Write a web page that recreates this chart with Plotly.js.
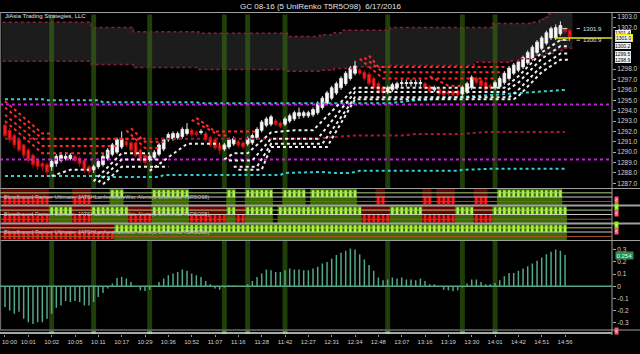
<!DOCTYPE html>
<html><head><meta charset="utf-8">
<script src="https://cdn.plot.ly/plotly-3.0.1.min.js"></script>
<style>html,body{margin:0;padding:0;background:#000;}#chart{width:640px;height:354px;}</style>
</head><body><div id="chart"></div>
<script>
// ---------------- DATA ----------------
const timeLabels = ['10:00','10:01','10:02','10:05','10:11','10:17','10:29','10:36','10:52','11:07','11:16','11:28','11:42','12:27','12:31','12:34','12:48','13:07','13:16','13:19','13:30','14:01','14:42','14:51','14:56'];
const barsPerLabel = 5;

const opens = [1292.6,1292.1,1291.6,1291.2,1290.7,1290.2,1289.7,1289.2,1288.9,1288.8,
1288.6,1288.9,1289.2,1289.4,1289.4,1289.6,1289.4,1289.2,1288.6,1288.3,
1288.6,1288.8,1289.4,1289.8,1290.0,1290.5,1291.0,1290.9,1290.9,1290.2,
1289.7,1289.3,1289.5,1289.8,1290.3,1291.2,1291.3,1291.4,1291.5,1291.8,
1292.1,1291.9,1291.9,1291.8,1291.4,1291.2,1290.7,1290.3,1290.5,1290.8,
1291.0,1290.9,1290.8,1290.9,1291.4,1292.1,1292.6,1292.7,1293.0,1292.8,
1292.7,1293.0,1293.2,1293.5,1293.5,1293.5,1293.6,1293.8,1294.3,1294.7,
1295.2,1295.7,1296.2,1296.6,1297.1,1297.6,1297.9,1297.7,1297.5,1297.1,
1296.6,1296.2,1295.8,1296.0,1296.2,1296.6,1296.6,1296.6,1296.6,1296.6,
1296.6,1296.3,1296.0,1296.1,1295.9,1295.8,1295.8,1295.9,1295.6,1295.8,
1296.2,1297.1,1296.9,1296.7,1296.4,1296.2,1296.3,1296.7,1297.1,1297.6,
1297.9,1298.2,1298.6,1299.0,1299.6,1300.0,1300.5,1301.0,1301.0,1301.4,
1301.9,1301.7];
const closes = [1291.6,1291.2,1290.7,1290.2,1289.7,1289.2,1288.8,1288.6,1288.6,1288.1,
1289.1,1289.6,1289.7,1289.6,1289.7,1289.2,1288.9,1288.3,1288.1,1288.6,
1289.1,1289.6,1290.2,1290.7,1291.2,1291.3,1290.7,1290.2,1289.7,1289.2,
1289.0,1289.6,1290.0,1290.7,1291.2,1291.7,1291.8,1291.8,1292.2,1292.2,
1291.7,1291.7,1292.0,1291.2,1290.7,1290.4,1290.2,1290.7,1291.2,1291.3,
1290.7,1290.5,1291.3,1291.6,1292.2,1292.9,1293.2,1293.4,1292.7,1292.5,
1293.2,1293.5,1293.8,1293.8,1293.8,1293.8,1294.1,1294.7,1295.2,1295.7,
1296.2,1296.6,1297.1,1297.6,1298.1,1298.3,1297.6,1297.1,1296.6,1296.2,
1295.8,1295.7,1296.2,1296.5,1296.6,1296.7,1296.7,1296.7,1296.7,1296.7,
1296.2,1295.9,1296.2,1295.6,1295.5,1295.6,1295.5,1295.5,1296.2,1296.6,
1297.2,1296.7,1296.4,1296.0,1296.2,1296.7,1297.1,1297.6,1298.1,1298.4,
1298.7,1299.1,1299.6,1300.1,1300.6,1301.0,1301.5,1301.9,1302.0,1302.2,
1301.6,1301.1];
const highs = [1292.8,1292.3,1291.8,1291.3,1290.8,1290.4,1289.9,1289.4,1289.1,1289.0,
1289.3,1289.8,1290.0,1290.0,1289.9,1289.8,1289.6,1289.3,1288.8,1288.8,
1289.3,1289.8,1290.4,1290.9,1291.4,1292.0,1291.3,1291.1,1291.0,1290.4,
1289.9,1289.8,1290.2,1290.9,1291.4,1291.9,1292.0,1292.0,1292.4,1292.8,
1292.3,1292.1,1292.2,1292.0,1291.6,1291.4,1290.9,1290.9,1291.4,1291.5,
1291.2,1291.1,1291.5,1291.8,1292.4,1293.1,1293.4,1293.6,1293.2,1293.0,
1293.4,1293.7,1294.0,1294.3,1294.0,1294.0,1294.3,1294.9,1295.4,1295.9,
1296.4,1296.8,1297.3,1297.8,1298.3,1298.8,1298.1,1297.9,1297.7,1297.3,
1296.8,1296.4,1296.4,1296.7,1296.8,1297.0,1297.0,1297.0,1297.0,1297.0,
1296.8,1296.5,1296.4,1296.3,1296.1,1296.0,1296.0,1296.1,1296.4,1296.8,
1297.4,1297.3,1297.1,1296.9,1296.6,1296.9,1297.3,1297.8,1298.3,1298.6,
1298.9,1299.3,1299.8,1300.3,1300.8,1301.2,1301.7,1302.1,1302.3,1302.6,
1302.1,1301.9];
const lows = [1291.4,1290.9,1290.4,1290.0,1289.4,1289.0,1288.5,1288.3,1288.2,1287.6,
1288.2,1288.6,1289.0,1289.2,1289.2,1289.0,1288.6,1288.0,1287.8,1288.0,
1288.4,1288.6,1289.2,1289.6,1289.8,1290.3,1290.5,1290.0,1289.5,1289.0,
1288.6,1289.1,1289.3,1289.6,1290.1,1291.0,1291.1,1291.2,1291.3,1291.6,
1291.5,1291.5,1291.7,1291.0,1290.5,1290.2,1289.8,1290.1,1290.3,1290.6,
1290.5,1290.3,1290.6,1290.7,1291.2,1291.9,1292.4,1292.5,1292.5,1292.3,
1292.5,1292.8,1293.0,1293.2,1293.3,1293.3,1293.4,1293.6,1294.1,1294.5,
1295.0,1295.5,1296.0,1296.4,1296.9,1297.4,1297.4,1296.9,1296.4,1296.0,
1295.6,1295.3,1295.6,1295.8,1296.0,1296.3,1296.3,1296.3,1296.3,1296.3,
1296.0,1295.7,1295.8,1295.4,1295.3,1295.4,1295.3,1295.3,1295.4,1295.6,
1296.0,1296.5,1296.2,1295.8,1296.0,1296.0,1296.1,1296.5,1296.9,1297.4,
1297.7,1298.0,1298.4,1298.8,1299.4,1299.8,1300.3,1300.8,1300.8,1301.2,
1301.4,1300.9];

const oscValues = [-0.171,-0.198,-0.226,-0.21,-0.267,-0.295,-0.309,-0.295,-0.295,-0.267,
-0.226,-0.176,-0.157,-0.121,-0.13,-0.121,-0.13,-0.157,-0.157,-0.13,
-0.088,-0.055,-0.019,0.022,0.069,0.077,0.063,0.036,0,-0.033,
-0.039,-0.028,0.008,0.036,0.063,0.091,0.105,0.118,0.138,0.127,
0.105,0.091,0.077,0.044,0.017,-0.019,-0.028,-0.011,0.006,0.006,
-0.006,0,0.017,0.044,0.077,0.105,0.138,0.132,0.118,0.118,
0.132,0.146,0.138,0.138,0.132,0.132,0.146,0.16,0.187,0.2,
0.229,0.256,0.275,0.292,0.311,0.303,0.264,0.22,0.174,0.127,
0.072,0.05,0.055,0.072,0.063,0.072,0.055,0.055,0.05,0.063,
0.044,0.017,0.017,0,-0.028,-0.033,-0.041,-0.033,-0.011,0.022,
0.055,0.055,0.036,0.017,0.017,0.028,0.05,0.083,0.11,0.11,
0.127,0.146,0.165,0.187,0.209,0.237,0.264,0.284,0.303,0.292,
0.256,null];
const oscLast = 0.254;

const signalBars = [10,19,31,47,52,60,82,98,105];

// cloud steps [bar, price]
const cloudTopSteps = [[0,1302.5],[19,1302.0],[28,1301.6],[42,1301.45],[61,1301.15],[68,1301.3],[71,1301.5],[73,1301.75],[83,1302.0],[105,1302.4],[113,1302.5],[115,1302.8],[116,1303.0],[117,1303.3],[118,1303.6]];
const cloudBotSteps = [[0,1298.75],[19,1298.45],[28,1298.15],[42,1297.95],[61,1297.8],[68,1297.9],[71,1298.05],[76,1298.2],[83,1298.35],[101,1298.65],[109,1298.8],[111,1299.0],[114,1299.3],[116,1299.5],[118,1299.8],[120,1300.0]];

const cyanUpper = [[0,1295.1],[8,1295.1],[9,1295.0],[20,1295.0],[21,1294.8],[41,1294.8],[42,1294.7],[82,1294.7],[88,1295.0],[97,1295.3],[108,1295.6],[120,1296.0]];
const cyanLower = [[0,1287.7],[20,1287.7],[21,1287.6],[33,1287.6],[34,1287.8],[59,1287.8],[60,1288.0],[68,1288.1],[70,1288.0],[74,1288.0],[76,1288.2],[97,1288.2],[98,1288.3],[104,1288.4],[120,1288.4]];
const crimsonLine = [[0,1291.3],[67,1291.3],[70,1291.45],[75,1291.6],[85,1291.6],[88,1291.75],[98,1291.75],[100,1291.85],[104,1291.95],[120,1291.95]];
const magentaLevels = [1294.6, 1289.3];

const redTrails = [
 [[0,1293.0],[8,1289.9],[22,1289.9]],
 [[0,1293.6],[8,1290.6],[24,1290.6]],
 [[0,1294.3],[8,1291.3],[30,1291.3]],
 [[0,1294.9],[8,1291.8],[10,1291.8]],
 [[26,1292.1],[30,1290.4],[33,1290.4]],
 [[27,1292.3],[30,1291.0],[34,1291.0]],
 [[40,1293.1],[46,1291.6],[48,1291.6]],
 [[41,1293.3],[45,1292.0],[54,1292.0]],
 [[76,1299.0],[81,1297.1],[105,1297.1]],
 [[77,1299.1],[81,1297.7],[106,1297.7]],
 [[78,1299.3],[80,1298.2],[107,1298.2]],
 [[91,1297.3],[95,1296.4],[98,1296.4]]
];
const whiteTrails = [
 [[10,1287.7],[14,1288.3],[18,1288.3]],
 [[19,1287.2],[25,1289.9],[31,1289.9]],
 [[20,1287.1],[25,1289.3],[33,1289.3]],
 [[21,1286.9],[25,1288.6],[35,1288.6]],
 [[31,1288.2],[39,1290.8],[46,1290.8]],
 [[47,1289.3],[49,1289.9],[52,1289.9],[57,1291.9],[62,1292.1],[66,1292.1],[75,1296.2],[107,1296.2],[110,1297.3],[115,1299.6],[119,1300.8],[121,1300.8]],
 [[48,1289.2],[53,1289.2],[57,1291.3],[67,1291.3],[75,1295.8],[107,1295.8],[110,1296.7],[115,1299.0],[119,1300.2],[121,1300.2]],
 [[49,1288.6],[54,1288.6],[57,1290.8],[68,1290.8],[75,1295.3],[108,1295.3],[110,1296.0],[115,1298.3],[119,1299.5],[121,1299.5]],
 [[50,1288.3],[55,1288.3],[57,1290.5],[69,1290.5],[75,1295.1],[109,1295.1],[110,1295.4],[115,1297.7],[119,1298.9],[121,1298.9]]
];

// indicator stripes as runs of state: g = up, r = down, n = neutral
const stripe1Runs = [['r',10],['n',5],['r',4],['n',4],['g',3],['n',6],['g',8],['n',8],['g',2],['n',2],['g',6],['n',2],['g',5],['n',1],['g',10],['n',4],['r',2],['n',8],['r',2],['n',1],['r',4],['n',4],['r',3],['n',2],['g',14],['n',2]];
const stripe2Runs = [['r',10],['g',5],['r',4],['g',8],['r',5],['g',8],['r',8],['g',2],['r',2],['g',6],['n',1],['g',18],['r',6],['g',7],['r',7],['g',4],['r',4],['g',16],['n',1]];
const stripe3Runs = [['r',24],['g',97],['n',1]];
const stripeLabel = 'Bloodhound Partner Ultimate: JATSHLanfeeshareWst: Alerts(5 UniRenko T5R5O98)';

const boxLevels = [1301.4, 1301.0, 1300.2, 1299.5, 1298.9];
const highlightLevel = 1301.0;
const lastHigh = 1301.9, lastLow = 1300.9;
const priceTicks = [1287,1288,1289,1290,1291,1292,1293,1294,1295,1296,1297,1298,1302,1303];

// ---------------- BUILD ----------------
const n = opens.length;
const bars = opens.map((_, i) => i);
const XR = [-1.07, 130.06];
const YR = [1286.55, 1303.45];
const OR = [-0.355, 0.372];
const RIGHT = 612/640;
const py = px => 1 - px/354;   // pixel row -> paper
const FONT = 'Arial, "Liberation Sans", sans-serif';

function expandSteps(steps){
  const out=[]; let k=0;
  for(let i=0;i<n;i++){ while(k+1<steps.length && steps[k+1][0]<=i) k++; out.push(steps[k][1]); }
  return out;
}
function expandRuns(runs){ const out=[]; runs.forEach(([s,c])=>{ for(let j=0;j<c;j++) out.push(s); }); return out; }

const cTop = expandSteps(cloudTopSteps), cBot = expandSteps(cloudBotSteps);
const traces = [];

// cloud as bars (drawn under candles)
traces.push({type:'bar', x:bars, base:cBot, y:cTop.map((t,i)=>t-cBot[i]), width:1.25,
  marker:{color:'#1c1c1c', line:{width:0}}, xaxis:'x', yaxis:'y', hoverinfo:'skip'});
// signal bands
const bandColor = 'rgba(58,120,14,0.52)';
traces.push({type:'bar', x:signalBars, base:YR[0], y:signalBars.map(()=>YR[1]-YR[0]-0.2), width:1.05,
  marker:{color:bandColor, line:{width:0}}, xaxis:'x', yaxis:'y'});
traces.push({type:'bar', x:signalBars, base:OR[0], y:signalBars.map(()=>OR[1]-OR[0]), width:1.05,
  marker:{color:bandColor, line:{width:0}}, xaxis:'x', yaxis:'y2'});
traces.push({type:'bar', x:signalBars, base:0, y:signalBars.map(()=>1), width:1.05,
  marker:{color:'#3f8a10', line:{width:0}}, xaxis:'x', yaxis:'y6'});
// oscillator
traces.push({type:'bar', x:bars, y:oscValues, width:0.32, marker:{color:'#52a98a', line:{width:0}}, xaxis:'x', yaxis:'y2'});

// stripes
const bgCol = {g:'#3b6a02', r:'#6a0000', n:'#000000'};
[[stripe1Runs,'y3'],[stripe2Runs,'y4'],[stripe3Runs,'y5']].forEach(([runs,ax])=>{
  const st = expandRuns(runs);
  traces.push({type:'bar', x:bars, base:0, y:st.map(()=>1), width:1.2,
    marker:{color:st.map(s=>bgCol[s]), line:{width:0}}, xaxis:'x', yaxis:ax});
  const gx = bars.filter(i=>st[i]==='g'), rx = bars.filter(i=>st[i]==='r');
  traces.push({type:'bar', x:gx, base:0.5, y:gx.map(()=>0.42), width:0.55,
    marker:{color:'#a6ff2c', line:{width:0}}, xaxis:'x', yaxis:ax});
  traces.push({type:'bar', x:rx, base:0.06, y:rx.map(()=>0.42), width:0.55,
    marker:{color:'#ff1414', line:{width:0}}, xaxis:'x', yaxis:ax});
});

// candles
traces.push({type:'candlestick', x:bars, open:opens, high:highs, low:lows, close:closes,
  xaxis:'x', yaxis:'y', whiskerwidth:0,
  increasing:{line:{color:'#e6e6e6', width:1}, fillcolor:'#ffffff'},
  decreasing:{line:{color:'#c01010', width:1}, fillcolor:'#ff2020'}, hoverinfo:'skip'});

// cloud borders
function stepLine(steps){ const xs=steps.map(s=>s[0]-0.5), ys=steps.map(s=>s[1]); xs.push(n-0.5); ys.push(ys[ys.length-1]); return [xs,ys]; }
[cloudTopSteps, cloudBotSteps].forEach(st=>{
  const [xs,ys]=stepLine(st);
  traces.push({type:'scatter', mode:'lines', x:xs, y:ys, line:{shape:'hv', color:'#8c1f3d', width:1.5, dash:'dot'}, xaxis:'x', yaxis:'y'});
});
function poly(pts, color, width){
  return {type:'scatter', mode:'lines', x:pts.map(p=>p[0]), y:pts.map(p=>p[1]), line:{color:color, width:width, dash:'dot'}, xaxis:'x', yaxis:'y'};
}
traces.push(poly(cyanUpper,'#35cfd0',2));
traces.push(poly(cyanLower,'#35cfd0',2));
traces.push(poly(crimsonLine,'#b0143c',2));
magentaLevels.forEach(v=>traces.push({type:'scatter', mode:'lines', x:XR, y:[v,v], line:{color:'#c41fd8', width:2, dash:'dot'}, xaxis:'x', yaxis:'y'}));
redTrails.forEach(p=>traces.push(poly(p,'#ff2a2a',2)));
whiteTrails.forEach(p=>traces.push(poly(p,'#f0f0f0',2)));
// last-price dashes
traces.push({type:'scatter', mode:'lines', x:[118.6,123.2], y:[lastHigh,lastHigh], line:{color:'#cccccc', width:1, dash:'dash'}, xaxis:'x', yaxis:'y'});
traces.push({type:'scatter', mode:'lines', x:[118.6,123.2], y:[lastLow-0.12,lastLow-0.12], line:{color:'#cccccc', width:1, dash:'dash'}, xaxis:'x', yaxis:'y'});
traces.push({type:'scatter', mode:'lines', x:[117.8, XR[1]], y:[highlightLevel,highlightLevel], line:{color:'#e8e800', width:1.5}, xaxis:'x', yaxis:'y'});

// shapes (frames)
const shapes = [];
const hline = (yp, color, w, x1) => shapes.push({type:'line', xref:'paper', yref:'paper', x0:0, x1:(x1===undefined?1:x1), y0:py(yp), y1:py(yp), line:{color:color, width:w}});
hline(12.5,'#a0a0a0',1);
hline(188.5,'#a0a0a0',1);
hline(205.5,'#a0a0a0',2);
hline(223.5,'#a0a0a0',2);
hline(240.5,'#a0a0a0',1);
hline(330,'#a0a0a0',1);
hline(333,'#d8e0d8',1.5,RIGHT);
shapes.push({type:'line', xref:'paper', yref:'paper', x0:RIGHT, x1:RIGHT, y0:py(12.5), y1:py(335), line:{color:'#a0a0a0', width:1}});
shapes.push({type:'line', xref:'paper', yref:'paper', x0:0.001, x1:0.001, y0:py(12.5), y1:py(330), line:{color:'#777', width:1}});
// stripe inner lines
['y3','y4','y5'].forEach(ax=>{
  [[0.76,'#a9cc7a'],[0.5,'#c8c8c8'],[0.22,'#a0522d']].forEach(([v,c])=>
    shapes.push({type:'line', xref:'paper', yref:ax, x0:0, x1:RIGHT, y0:v, y1:v, line:{color:c, width:1}}));
});
// oscillator zero line
shapes.push({type:'line', xref:'paper', yref:'y2', x0:0, x1:RIGHT, y0:0, y1:0, line:{color:'#5aa585', width:1.5}});

// annotations
const ann = [];
ann.push({xref:'paper', yref:'paper', x:0.5, y:py(6.5), text:'GC 08-16 (5 UniRenko T5R5O98)  6/17/2016', showarrow:false, font:{family:FONT, size:8, color:'#e0e0e0'}, xanchor:'center', yanchor:'middle'});
ann.push({xref:'paper', yref:'paper', x:0.005, y:py(16), text:'JiAsia Trading Strategies, LLC', showarrow:false, font:{family:FONT, size:6, color:'#e0e0e0'}, xanchor:'left', yanchor:'middle'});
[197,214,232].forEach(yp=>ann.push({xref:'paper', yref:'paper', x:0.003, y:py(yp), text:stripeLabel, showarrow:false, font:{family:FONT, size:5.5, color:'#c0c0c0'}, xanchor:'left', yanchor:'middle'}));
boxLevels.forEach((v,k)=>ann.push({xref:'paper', yref:'y', x:RIGHT+0.004, y:(k===0? v+0.1 : v), text:v.toFixed(1), showarrow:false,
  font:{family:FONT, size:5, color:'#000'}, bgcolor:'#f2f2f2', bordercolor:(v===highlightLevel?'#e8e800':'#888'), borderwidth:(v===highlightLevel?1:0), borderpad:0, xanchor:'left', yanchor:'middle'}));
ann.push({xref:'x', yref:'y', x:123.4, y:lastHigh, text:lastHigh.toFixed(1), showarrow:false, font:{family:FONT, size:6, color:'#e0e0e0'}, xanchor:'left', yanchor:'middle'});
ann.push({xref:'x', yref:'y', x:123.4, y:lastLow-0.12, text:lastLow.toFixed(1), showarrow:false, font:{family:FONT, size:6, color:'#e0e0e0'}, xanchor:'left', yanchor:'middle'});
ann.push({xref:'paper', yref:'y2', x:RIGHT+0.004, y:oscLast, text:oscLast.toFixed(3), showarrow:false, font:{family:FONT, size:6, color:'#d8ffe8'}, bgcolor:'#2e8b57', borderpad:0.5, xanchor:'left', yanchor:'middle'});
[[200,'#ff5a6e'],[207,'#7cfc00'],[213,'#ff5a6e'],[225,'#7cfc00'],[231,'#ff5a6e'],[331,'#ff5a6e']].forEach(([yp,c])=>
  ann.push({xref:'paper', yref:'paper', x:RIGHT+0.003, y:py(yp), text:'&lt;', showarrow:false, font:{family:FONT, size:5, color:'#fff'}, bgcolor:c, borderpad:0, xanchor:'left', yanchor:'middle'}));
// first time label kept inside the left edge
ann.push({xref:'paper', yref:'paper', x:0.0, y:py(341.5), text:timeLabels[0], showarrow:false, font:{family:FONT, size:6, color:'#d0d0d0'}, xanchor:'left', yanchor:'middle'});

const axFont = {family:FONT, size:6.5, color:'#d0d0d0'};
const layout = {
  width:640, height:354, margin:{l:0,r:0,t:0,b:0},
  paper_bgcolor:'#000', plot_bgcolor:'#000', showlegend:false, barmode:'overlay', hovermode:false, boxgap:0.18,
  font:{family:FONT, color:'#ddd'},
  xaxis:{domain:[0,RIGHT], range:XR, anchor:'y6', showgrid:false, zeroline:false, showline:false,
    tickvals:timeLabels.map((_,k)=>k*barsPerLabel), ticktext:timeLabels.map((t,k)=>k===0?'':t), ticks:'outside', ticklen:2, tickcolor:'#999',
    tickfont:{family:FONT, size:6, color:'#d0d0d0'}, rangeslider:{visible:false}, fixedrange:true},
  yaxis:{domain:[py(188), py(12.5)], range:YR, side:'right', anchor:'x', showgrid:false, zeroline:false,
    tickvals:priceTicks, tickformat:'.1f', ticks:'outside', ticklen:3, tickcolor:'#aaa', tickfont:axFont, showline:false},
  yaxis2:{domain:[py(329.5), py(241)], range:OR, side:'right', anchor:'x', showgrid:false, zeroline:false,
    tickvals:[-0.3,-0.2,-0.1,0,0.1,0.2,0.3], ticktext:['-0.3','-0.2','-0.1','0','0.1','0.2','0.3'],
    ticks:'outside', ticklen:3, tickcolor:'#aaa', tickfont:axFont, showline:false},
  yaxis3:{domain:[py(205), py(189)], range:[0,1], anchor:'x', showticklabels:false, showgrid:false, zeroline:false, ticks:''},
  yaxis4:{domain:[py(223), py(206)], range:[0,1], anchor:'x', showticklabels:false, showgrid:false, zeroline:false, ticks:''},
  yaxis5:{domain:[py(240), py(224)], range:[0,1], anchor:'x', showticklabels:false, showgrid:false, zeroline:false, ticks:''},
  yaxis6:{domain:[py(334), py(330.5)], range:[0,1], anchor:'x', showticklabels:false, showgrid:false, zeroline:false, ticks:''},
  shapes:shapes, annotations:ann
};
Plotly.newPlot('chart', traces, layout, {staticPlot:true, displayModeBar:false});
</script></body></html>
